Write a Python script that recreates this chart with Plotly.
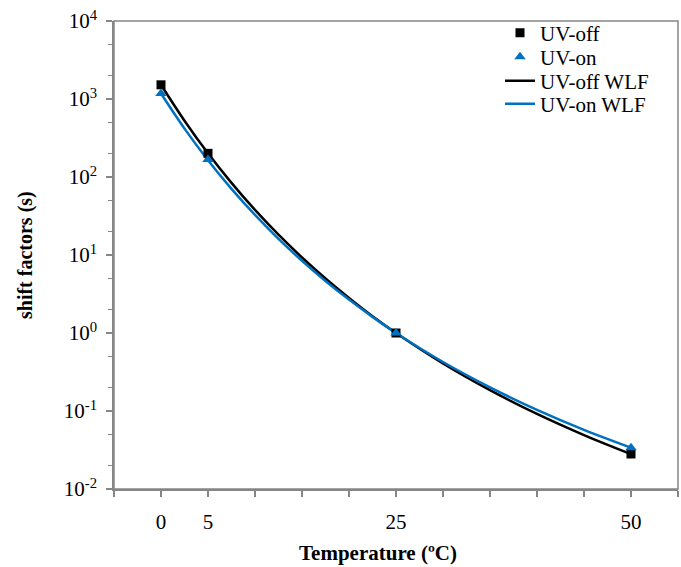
import plotly.graph_objects as go

# measured data points
temp_pts = [0, 5, 25, 50]
uv_off = [1520, 201, 1.0, 0.0281]
uv_on = [1175, 168, 1.0, 0.0337]

# WLF fit curves
temp_fit = [0, 2.5, 5, 7.5, 10, 12.5, 15, 17.5, 20, 22.5, 25, 30, 35, 40, 45, 50]
uv_off_wlf = [1524, 527, 201, 84, 37.8, 18.2, 9.29, 4.99, 2.81, 1.64, 1.0,
              0.407, 0.185, 0.0917, 0.0491, 0.0280]
uv_on_wlf = [1175, 417, 164, 70.4, 32.6, 16.1, 8.43, 4.65, 2.68, 1.61, 1.0,
             0.425, 0.201, 0.1035, 0.0574, 0.0339]

x_tickvals = [-5, 0, 5, 10, 15, 20, 25, 30, 35, 40, 45, 50, 55]
x_ticktext = ["", "0", "5", "", "", "", "25", "", "", "", "", "50", ""]
y_tickvals = [1e-2, 1e-1, 1e0, 1e1, 1e2, 1e3, 1e4]
y_ticktext = ["10<sup>-2</sup>", "10<sup>-1</sup>", "10<sup>0</sup>", "10<sup>1</sup>",
              "10<sup>2</sup>", "10<sup>3</sup>", "10<sup>4</sup>"]

BLACK = "#000000"
BLUE = "#0070C0"
GREY = "#868686"
FONT = "Liberation Serif"

W, H = 681, 567
ML, MT, MR = 114, 21, 3
PW, PH = 564, 468
MB = H - MT - PH

fig = go.Figure()
fig.add_trace(go.Scatter(x=temp_fit, y=uv_off_wlf, mode="lines", name="UV-off WLF",
                         line=dict(color=BLACK, width=2.5, shape="spline"), legend="legend3"))
fig.add_trace(go.Scatter(x=temp_fit, y=uv_on_wlf, mode="lines", name="UV-on WLF",
                         line=dict(color=BLUE, width=2.5, shape="spline"), legend="legend4"))
fig.add_trace(go.Scatter(x=temp_pts, y=uv_off, mode="markers", name="UV-off",
                         marker=dict(symbol="square", size=9, color=BLACK), legend="legend"))
fig.add_trace(go.Scatter(x=temp_pts, y=uv_on, mode="markers", name="UV-on",
                         marker=dict(symbol="triangle-up", size=10, color=BLUE), legend="legend2"))

tick_common = dict(ticks="outside", tickcolor=GREY, tickwidth=1.5, ticklen=6,
                   showgrid=False, zeroline=False, automargin=False,
                   showline=True, linecolor=GREY, linewidth=1.5)

fig.update_layout(
    width=W, height=H,
    margin=dict(l=ML, r=MR, t=MT, b=MB),
    plot_bgcolor="white", paper_bgcolor="white",
    font=dict(family=FONT, size=21, color="#000"),
    xaxis=dict(range=[-5, 55], tickmode="array", tickvals=x_tickvals, ticktext=x_ticktext,
               ticklabelstandoff=7, ticklabeloverflow="allow",
               tickfont=dict(family=FONT, size=21, color="#000"),
               **tick_common),
    yaxis=dict(type="log", range=[-2, 4], tickmode="array", tickvals=y_tickvals, ticktext=y_ticktext,
               minor=dict(ticks="outside", ticklen=4, tickcolor=GREY, tickwidth=1.2, showgrid=False),
               ticklabelstandoff=5, ticklabeloverflow="allow",
               tickfont=dict(family=FONT, size=21, color="#000"),
               **tick_common),
    xaxis2=dict(range=[-5, 55], overlaying="x", side="top", anchor="y", matches="x",
                tickmode="array", tickvals=x_tickvals, showticklabels=False,
                **tick_common),
    yaxis2=dict(type="log", range=[-2, 4], overlaying="y", side="right", anchor="x",
                tickmode="array", tickvals=y_tickvals, showticklabels=False,
                minor=dict(ticks="outside", ticklen=4, tickcolor=GREY, tickwidth=1.2, showgrid=False),
                **tick_common),
    showlegend=True,
)

# plot-area frame
fig.add_shape(type="rect", xref="paper", yref="paper", x0=0, x1=1, y0=0, y1=1,
              line=dict(color=GREY, width=1.5), fillcolor="rgba(0,0,0,0)", layer="above")

# four single-item legends placed to match the reference spacing
legend_style = dict(xanchor="left", yanchor="middle", bgcolor="rgba(0,0,0,0)",
                    font=dict(family=FONT, size=21, color="#000"), borderwidth=0)
legend_x = (500 - 114) / PW
legend_rows_px = [33, 57, 81, 104]
for key, ypx in zip(["legend", "legend2", "legend3", "legend4"], legend_rows_px):
    fig.update_layout({key: dict(x=legend_x, y=(489 - ypx) / PH, **legend_style)})

# axis titles
fig.add_annotation(text="<b>Temperature (ºC)</b>", xref="paper", yref="paper",
                   x=(378 - 114) / PW, y=-(553 - 489) / PH, xanchor="center", yanchor="middle",
                   showarrow=False, font=dict(family=FONT, size=21, color="#000"))
fig.add_annotation(text="<b>shift factors (s)</b>", xref="paper", yref="paper",
                   x=-(114 - 25) / PW, y=0.5, xanchor="center", yanchor="middle", textangle=-90,
                   showarrow=False, font=dict(family=FONT, size=20, color="#000"))

# remove the default page margin so the 681x567 figure fills the window exactly
page_fix = ("document.documentElement.style.margin='0';document.body.style.margin='0';"
            "document.documentElement.style.overflow='hidden';document.body.style.overflow='hidden';")

fig.write_html("out.html", post_script=page_fix, config={"displayModeBar": False})
